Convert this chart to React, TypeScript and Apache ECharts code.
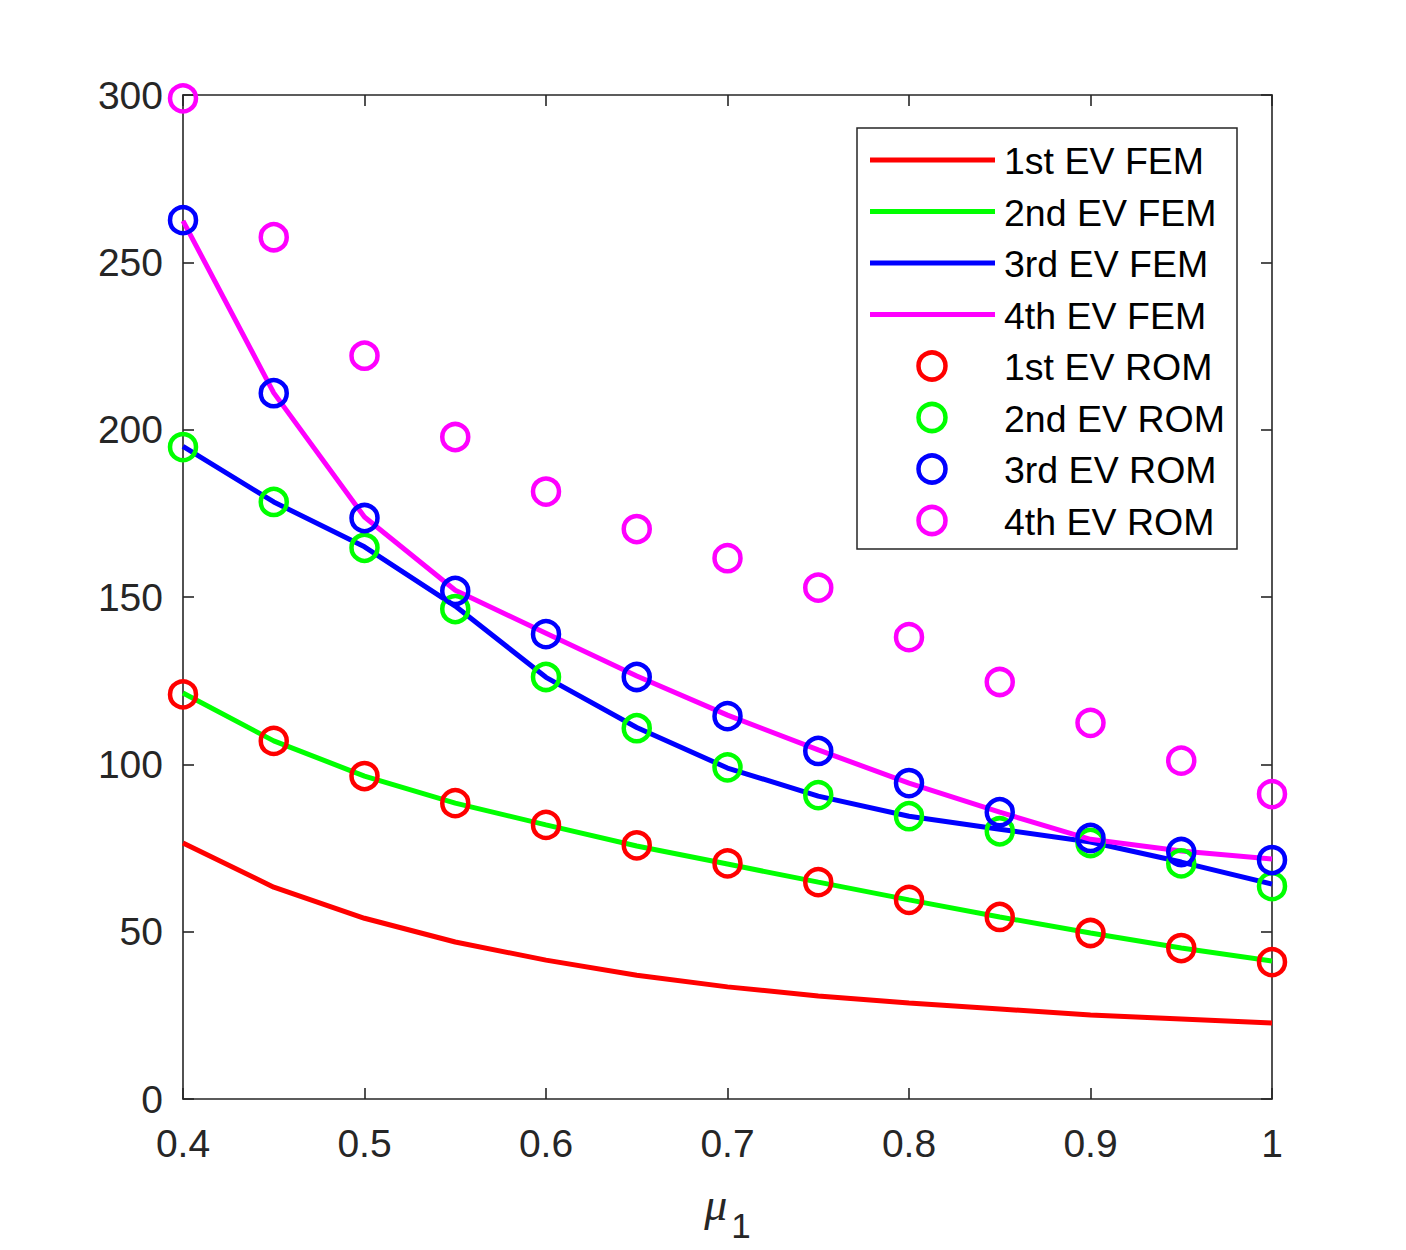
import React, { useEffect, useRef } from "react";
import * as echarts from "echarts";

const mu = [0.4, 0.45, 0.5, 0.55, 0.6, 0.65, 0.7, 0.75, 0.8, 0.85, 0.9, 0.95, 1.0];

const fem1 = [76.5, 63.3, 54.0, 46.9, 41.5, 37.0, 33.5, 30.8, 28.7, 26.9, 25.1, 23.9, 22.7];
const fem2 = [121.3, 107.0, 96.5, 88.4, 81.9, 75.6, 70.2, 64.8, 59.5, 54.4, 49.6, 45.1, 41.2];
const fem3 = [195.0, 178.4, 165.0, 147.3, 126.0, 111.0, 98.9, 90.5, 84.5, 80.6, 76.8, 70.8, 64.2];
const fem4 = [262.4, 211.0, 173.9, 152.0, 139.2, 126.4, 114.7, 104.3, 94.4, 85.7, 77.6, 74.1, 71.7];

const rom1 = [120.9, 107.0, 96.5, 88.4, 81.9, 75.8, 70.4, 64.8, 59.5, 54.4, 49.6, 45.1, 40.9];
const rom2 = [194.8, 178.4, 164.7, 146.4, 126.1, 110.8, 99.1, 90.8, 84.5, 80.0, 76.5, 70.4, 63.6];
const rom3 = [262.6, 210.9, 173.6, 151.8, 138.9, 126.1, 114.4, 104.0, 94.4, 85.7, 78.0, 73.8, 71.4];
const rom4 = [299.0, 257.5, 222.1, 197.8, 181.5, 170.3, 161.6, 152.8, 138.0, 124.6, 112.4, 101.1, 91.1];

const yTicks = [0, 50, 100, 150, 200, 250, 300];

const names = [
  "1st EV FEM",
  "2nd EV FEM",
  "3rd EV FEM",
  "4th EV FEM",
  "1st EV ROM",
  "2nd EV ROM",
  "3rd EV ROM",
  "4th EV ROM",
];
const colors = ["#FF0000", "#00FF00", "#0000FF", "#FF00FF"];

const FONT = "'Liberation Sans', Arial, Helvetica, sans-serif";
const AX = "#262626";

export default function App() {
  const ref = useRef<HTMLDivElement>(null);

  useEffect(() => {
    if (!ref.current) return;
    const chart = echarts.init(ref.current, undefined, { renderer: "svg" });

    const pairs = (ys: number[]) => mu.map((x, i) => [x, ys[i]]);
    const femList = [fem1, fem2, fem3, fem4];
    const romList = [rom1, rom2, rom3, rom4];

    const lineSeries = femList.map((ys, k) => ({
      name: names[k],
      type: "line",
      xAxisIndex: 0,
      yAxisIndex: 0,
      data: pairs(ys),
      showSymbol: false,
      symbol: "none",
      lineStyle: { color: colors[k], width: 5 },
      itemStyle: { color: colors[k] },
      z: 2,
    }));
    const scatterSeries = romList.map((ys, k) => ({
      name: names[k + 4],
      type: "scatter",
      xAxisIndex: 0,
      yAxisIndex: 0,
      data: pairs(ys),
      symbol: "circle",
      symbolSize: 26,
      itemStyle: { color: "rgba(0,0,0,0)", borderColor: colors[k], borderWidth: 4.5, opacity: 1 },
      z: 3,
    }));

    // legend box drawn with graphic elements
    const lx = 857, ly = 128, lw = 380, lh = 421;
    const rowY0 = 160, rowDy = 51.5;
    const legendEls: any[] = [
      {
        type: "rect",
        shape: { x: lx, y: ly, width: lw, height: lh },
        style: { fill: "#fff", stroke: AX, lineWidth: 1.5 },
        z: 100,
      },
    ];
    names.forEach((n, i) => {
      const y = rowY0 + i * rowDy;
      const k = i % 4;
      if (i < 4) {
        legendEls.push({
          type: "line",
          shape: { x1: 870, y1: y, x2: 995, y2: y },
          style: { stroke: colors[k], lineWidth: 5 },
          z: 101,
        });
      } else {
        legendEls.push({
          type: "circle",
          shape: { cx: 932, cy: y, r: 13.5 },
          style: { fill: "none", stroke: colors[k], lineWidth: 4.5 },
          z: 101,
        });
      }
      legendEls.push({
        type: "text",
        x: 1004,
        y: y + 1,
        style: {
          text: n,
          fontFamily: FONT,
          fontSize: 37.5,
          fill: "#000",
          textAlign: "left",
          textVerticalAlign: "middle",
        },
        z: 101,
      });
    });

    const xCommon = {
      type: "value",
      min: 0.4,
      max: 1,
      interval: 0.1,
      splitLine: { show: false },
      axisLine: { show: true, onZero: false, lineStyle: { color: AX, width: 1.6 } },
      axisTick: { show: true, inside: true, length: 11, lineStyle: { color: AX, width: 1.6 } },
    };
    const yCommon = {
      type: "value",
      min: yTicks[0],
      max: yTicks[yTicks.length - 1],
      interval: 50,
      splitLine: { show: false },
      axisLine: { show: true, onZero: false, lineStyle: { color: AX, width: 1.6 } },
      axisTick: { show: true, inside: true, length: 11, lineStyle: { color: AX, width: 1.6 } },
    };

    chart.setOption({
      animation: false,
      backgroundColor: "#fff",
      grid: { left: 183, right: 134, top: 95, bottom: 151, containLabel: false },
      xAxis: [
        {
          ...xCommon,
          position: "bottom",
          axisLabel: {
            show: true,
            margin: 25,
            fontFamily: FONT,
            fontSize: 39,
            color: AX,
            formatter: (v: number) => String(Number(v.toFixed(2))),
          },
          name: "{mu|μ}{sub|1}",
          nameLocation: "middle",
          nameGap: 82,
          nameTextStyle: {
            rich: {
              mu: {
                fontFamily: "'Liberation Serif', 'DejaVu Serif', serif",
                fontStyle: "italic",
                fontSize: 46,
                color: AX,
                lineHeight: 62,
                verticalAlign: "top",
              },
              sub: {
                fontFamily: FONT,
                fontSize: 35,
                color: AX,
                lineHeight: 62,
                verticalAlign: "bottom",
                padding: [0, 0, 0, 4],
              },
            },
          },
        },
        { ...xCommon, position: "top", axisLabel: { show: false } },
      ],
      yAxis: [
        {
          ...yCommon,
          position: "left",
          axisLabel: {
            show: true,
            margin: 20,
            fontFamily: FONT,
            fontSize: 39,
            color: AX,
          },
        },
        { ...yCommon, position: "right", axisLabel: { show: false } },
      ],
      series: [...lineSeries, ...scatterSeries],
      graphic: { elements: legendEls },
    });

    return () => chart.dispose();
  }, []);

  return (
    <div
      ref={ref}
      style={{ position: "fixed", left: 0, top: 0, width: 1406, height: 1250, background: "#fff" }}
    />
  );
}
